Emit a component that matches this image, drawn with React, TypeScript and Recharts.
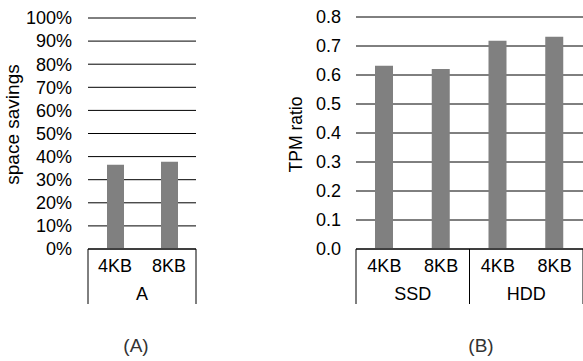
import { BarChart, Bar, XAxis, YAxis, CartesianGrid, Label } from 'recharts';

const leftKeys = ['A-4KB', 'A-8KB'];
const leftSizes = ['4KB', '8KB'];
const leftGroups = ['A', 'A'];
const spaceSavings = [36.5, 37.8];
const leftTicks = [0, 10, 20, 30, 40, 50, 60, 70, 80, 90, 100];

const rightKeys = ['SSD-4KB', 'SSD-8KB', 'HDD-4KB', 'HDD-8KB'];
const rightSizes = ['4KB', '8KB', '4KB', '8KB'];
const rightGroups = ['SSD', 'SSD', 'HDD', 'HDD'];
const tpmRatio = [0.632, 0.621, 0.718, 0.732];
const rightTicks = [0, 0.1, 0.2, 0.3, 0.4, 0.5, 0.6, 0.7, 0.8];

const FONT = '"Liberation Sans", Arial, sans-serif';
const BAR = '#808080';

const leftData = leftKeys.map((key, i) => ({ key, size: leftSizes[i], group: leftGroups[i], value: spaceSavings[i] }));
const rightData = rightKeys.map((key, i) => ({ key, size: rightSizes[i], group: rightGroups[i], value: tpmRatio[i] }));

// two-level category tick: size label + boxed group label
function GroupTick(props: any) {
  const { x, y, index, payload, data, band } = props;
  const half = payload?.offset || band / 2;
  const row = data[index];
  const groupStart = index === 0 || data[index - 1].group !== row.group;
  const isLast = index === data.length - 1;
  let count = 0;
  if (groupStart) {
    for (let j = index; j < data.length && data[j].group === row.group; j++) count++;
  }
  const left = x - half;
  return (
    <g>
      <text x={x} y={y + 23} textAnchor="middle" fontSize={18} fill="#000" fontFamily={FONT}>
        {row.size}
      </text>
      {groupStart && (
        <>
          <line x1={left} x2={left} y1={y} y2={y + 55} stroke="#000" />
          <text x={left + half * count} y={y + 51} textAnchor="middle" fontSize={18} fill="#000" fontFamily={FONT}>
            {row.group}
          </text>
        </>
      )}
      {isLast && <line x1={x + half} x2={x + half} y1={y} y2={y + 55} stroke="#000" />}
    </g>
  );
}

const AxisTitle = ({ viewBox, value, bx, dy, size }: any) => {
  const cy = viewBox.y + viewBox.height / 2 + dy;
  return (
    <text
      x={bx}
      y={cy}
      transform={`rotate(-90, ${bx}, ${cy})`}
      textAnchor="middle"
      fontSize={size}
      fill="#000"
      fontFamily={FONT}
    >
      {value}
    </text>
  );
};

const tickStyle = { fill: '#000', fontSize: 18, fontFamily: FONT };

export default function App() {
  return (
    <div style={{ position: 'absolute', left: 0, top: 0, width: 583, height: 361, background: '#fff', overflow: 'hidden', fontFamily: FONT }}>
      <div style={{ position: 'absolute', left: 0, top: 0 }}>
        <BarChart width={200} height={361} data={leftData} margin={{ top: 18, right: 4, left: 8, bottom: 52 }}>
          <CartesianGrid vertical={false} stroke="#000" />
          <XAxis
            dataKey="key"
            interval={0}
            height={60}
            tickSize={0}
            tickMargin={0}
            tickLine={false}
            axisLine={{ stroke: '#000' }}
            tick={(p: any) => <GroupTick {...p} data={leftData} band={54} />}
          />
          <YAxis
            width={80}
            domain={[0, 100]}
            ticks={leftTicks}
            interval={0}
            axisLine={false}
            tickLine={false}
            tickSize={0}
            tickMargin={16}
            tick={tickStyle}
            tickFormatter={(v) => `${v}%`}
          >
            <Label
              value="space savings"
              content={(p: any) => <AxisTitle {...p} value="space savings" bx={19} dy={-9} size={19} />}
            />
          </YAxis>
          <Bar dataKey="value" fill={BAR} barSize={17} isAnimationActive={false} />
        </BarChart>
      </div>
      <div style={{ position: 'absolute', left: 280, top: 0 }}>
        <BarChart width={303} height={361} data={rightData} margin={{ top: 17, right: 0, left: 16, bottom: 52 }}>
          <CartesianGrid vertical={false} stroke="#000" />
          <XAxis
            dataKey="key"
            interval={0}
            height={60}
            tickSize={0}
            tickMargin={0}
            tickLine={false}
            axisLine={{ stroke: '#000' }}
            tick={(p: any) => <GroupTick {...p} data={rightData} band={56.75} />}
          />
          <YAxis
            width={60}
            domain={[0, 0.8]}
            ticks={rightTicks}
            interval={0}
            axisLine={false}
            tickLine={false}
            tickSize={0}
            tickMargin={15}
            tick={tickStyle}
            tickFormatter={(v) => Number(v).toFixed(1)}
          >
            <Label
              value="TPM ratio"
              content={(p: any) => <AxisTitle {...p} value="TPM ratio" bx={22} dy={1.5} size={17.5} />}
            />
          </YAxis>
          <Bar dataKey="value" fill={BAR} barSize={18} isAnimationActive={false} />
        </BarChart>
      </div>
      <div style={{ position: 'absolute', left: 111, top: 335, width: 50, textAlign: 'center', fontSize: 19, color: '#333' }}>(A)</div>
      <div style={{ position: 'absolute', left: 456, top: 335, width: 50, textAlign: 'center', fontSize: 19, color: '#333' }}>(B)</div>
    </div>
  );
}
